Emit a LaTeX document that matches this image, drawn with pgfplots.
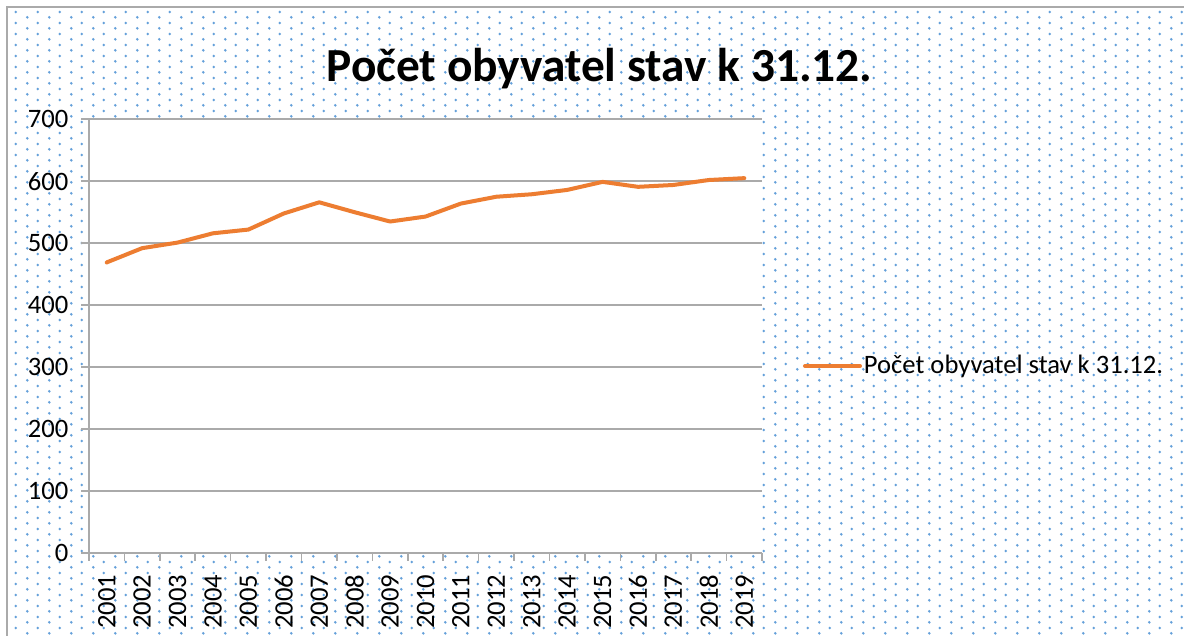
\documentclass[border=0pt]{standalone}
\usepackage{fontspec}
\setmainfont{Carlito}
\usepackage{pgfplots}
\pgfplotsset{compat=1.18}
\usetikzlibrary{patterns}
\definecolor{lineorange}{RGB}{237,125,49}
\definecolor{gridgray}{RGB}{170,170,170}
\definecolor{dotblue}{RGB}{100,160,218}
\pgfdeclarepatternformonly{exceldots}{\pgfqpoint{0pt}{0pt}}{\pgfqpoint{10.75pt}{5.4pt}}{\pgfqpoint{10.75pt}{5.4pt}}{%
  \pgfpathcircle{\pgfqpoint{2.69pt}{1.35pt}}{0.72pt}%
  \pgfpathcircle{\pgfqpoint{8.06pt}{4.05pt}}{0.72pt}%
  \pgfusepath{fill}}
\newcommand{\tickfont}{\fontsize{13.3}{15}\selectfont}
\newcommand{\titlefont}{\fontsize{23.7}{28}\selectfont\bfseries}
\pgfplotstableread{
x year pop
0 2001 469
1 2002 492
2 2003 501
3 2004 516
4 2005 522
5 2006 548
6 2007 566
7 2008 550
8 2009 535
9 2010 543
10 2011 564
11 2012 575
12 2013 579
13 2014 586
14 2015 599
15 2016 591
16 2017 594
17 2018 602
18 2019 605
}\popdata
\begin{document}
\begin{tikzpicture}[x=1pt,y=1pt]
\useasboundingbox (0,0) rectangle (592,318);
\fill[white] (0,0) rectangle (592,318);
\fill[pattern=exceldots, pattern color=dotblue] (3.5,0) rectangle (592,314.6);
\draw[gridgray, line width=0.8pt] (3.5,-1) -- (3.5,314.6) -- (593,314.6);
\node[font=\titlefont, anchor=base] at (299.75,277.35) {Počet obyvatel stav k 31.12.};
\begin{axis}[
  at={(44.5pt,41.5pt)}, anchor=south west,
  scale only axis, width=336.5pt, height=216.85pt,
  xmin=-0.5, xmax=18.5, ymin=0, ymax=700,
  xtick={0,...,18},
  xticklabels={2001,2002,2003,2004,2005,2006,2007,2008,2009,2010,2011,2012,2013,2014,2015,2016,2017,2018,2019},
  major x tick style={draw=none},
  minor xtick={-0.5,0.5,...,18.5},
  ytick={0,100,...,700},
  ymajorgrids,
  axis x line*=bottom, axis y line*=left,
  axis line style={draw=gridgray, line width=0.8pt, -},
  tick align=outside,
  major tick length=3.8pt, minor tick length=4pt,
  tick style={draw=gridgray, line width=0.8pt},
  grid style={draw=gridgray, line width=0.8pt},
  axis background/.style={fill=white},
  ticklabel style={font=\tickfont, text=black},
  /pgf/number format/assume math mode=true,
  xticklabel style={rotate=90, anchor=east},
  xticklabel shift=3.5pt,
  yticklabel style={xshift=-3pt},
  legend style={draw=none, fill=none, at={(1.0609,0.4312)}, anchor=west,
    font=\tickfont, inner sep=0pt, outer sep=0pt,
    /tikz/every odd column/.append style={column sep=-1pt}},
  legend image code/.code={\draw[#1] (0pt,0pt) -- (27.5pt,0pt);},
  legend cell align=left,
]
\addplot[lineorange, line width=2pt, line join=round, line cap=round] table[x=x, y=pop] {\popdata};
\addlegendentry{Počet obyvatel stav k 31.12.}
\end{axis}
\end{tikzpicture}
\end{document}
